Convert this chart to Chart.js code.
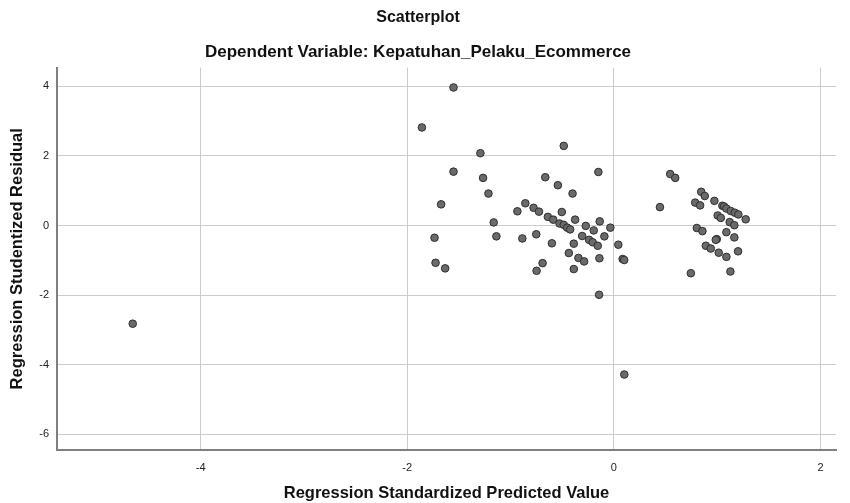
<!DOCTYPE html>
<html>
<head>
<meta charset="utf-8">
<script src="https://cdn.jsdelivr.net/npm/chart.js@4"></script>
<style>
  body { margin: 0; background: #fff; }
  #wrap { width: 850px; height: 503px; }
</style>
</head>
<body>
<div id="wrap"><canvas id="grafico" width="850" height="503"></canvas></div>
<script>
// predicted values (x) and studentized residuals (y)
let predicted = [
  -4.657, -1.552, -1.858, -1.292, -1.552, -1.266, -1.214, -1.672, -0.857, -0.934,
  -0.777, -0.725, -1.163, -1.736, -1.137, -0.886, -0.751, -1.726, -1.633, -0.748,
  -0.690, -0.485, -0.150, -0.664, -0.542, -0.400, -0.504, -0.639, -0.587, -0.375,
  -0.526, -0.485, -0.452, -0.423, -0.137, -0.272, -0.195, -0.034, -0.307, -0.240,
  -0.205, -0.156, -0.092, -0.600, -0.388, 0.043, -0.436, -0.343, -0.288, -0.140,
  0.085, 0.100, -0.388, -0.143, 0.101, 0.446,
  0.545, 0.594, 0.845, 0.880, 0.787, 0.835, 0.973, 1.050, 1.067, 1.089,
  1.131, 1.170, 1.205, 1.276, 1.005, 1.035, 1.121, 1.166, 0.803, 0.857,
  1.089, 1.166, 0.996, 0.986, 0.890, 0.938, 1.015, 1.089, 1.202, 0.745, 1.128
];
let residual = [
  -2.82, 3.97, 2.82, 2.08, 1.55, 1.37, 0.92, 0.61, 0.64, 0.41,
  0.51, 0.40, 0.09, -0.35, -0.31, -0.37, -0.25, -1.07, -1.23, -1.30,
  -1.08, 2.29, 1.54, 1.39, 1.16, 0.92, 0.39, 0.25, 0.17, 0.17,
  0.06, 0.02, -0.06, -0.11, 0.12, -0.01, -0.14, -0.06, -0.30, -0.41,
  -0.48, -0.58, -0.31, -0.51, -0.52, -0.55, -0.79, -0.93, -1.03, -0.94,
  -0.96, -0.99, -1.25, -1.99, -4.28, 0.53,
  1.48, 1.37, 0.97, 0.85, 0.66, 0.58, 0.71, 0.57, 0.55, 0.49,
  0.42, 0.37, 0.32, 0.18, 0.29, 0.22, 0.10, 0.01, -0.07, -0.16,
  -0.19, -0.34, -0.39, -0.41, -0.58, -0.66, -0.78, -0.90, -0.74, -1.37, -1.32
];

let fonte = "'Liberation Sans', Arial, sans-serif";
let pontos = predicted.map((x, i) => ({ x: x, y: residual[i] }));

let ctx = document.getElementById('grafico').getContext('2d');
let grafico = new Chart(ctx, {
  type: 'scatter',
  data: {
    datasets: [{
      data: pontos,
      backgroundColor: '#6a6a6a',
      borderColor: '#2e2e2e',
      borderWidth: 1,
      pointRadius: 3.8
    }]
  },
  options: {
    responsive: false,
    animation: false,
    layout: { padding: { left: 0, right: 14, top: 0, bottom: 0 } },
    plugins: {
      legend: { display: false },
      tooltip: { enabled: false },
      title: {
        display: true,
        text: 'Scatterplot',
        color: '#111',
        font: { family: fonte, size: 16, weight: 'bold', lineHeight: 1.2 },
        padding: { top: 8, bottom: 15 }
      },
      subtitle: {
        display: true,
        text: 'Dependent Variable: Kepatuhan_Pelaku_Ecommerce',
        color: '#111',
        font: { family: fonte, size: 17, weight: 'bold', lineHeight: 1.2 },
        padding: { top: 0, bottom: 5 }
      }
    },
    scales: {
      x: {
        type: 'linear',
        min: -5.39,
        max: 2.15,
        afterFit: (s) => { s.height = 53; },
        ticks: { stepSize: 2, includeBounds: false, color: '#222', padding: 11,
                 font: { family: fonte, size: 11 } },
        grid: { color: '#cccccc', lineWidth: 1, drawTicks: false },
        border: { color: '#808080', width: 2 },
        title: { display: true, text: 'Regression Standardized Predicted Value', color: '#111',
                 font: { family: fonte, size: 16.5, weight: 'bold' }, padding: { top: 4, bottom: 0 } }
      },
      y: {
        min: -6.45,
        max: 4.54,
        afterFit: (s) => { s.width = 57; },
        ticks: { stepSize: 2, includeBounds: false, color: '#222', padding: 8,
                 font: { family: fonte, size: 11 } },
        grid: { color: '#cccccc', lineWidth: 1, drawTicks: false },
        border: { color: '#808080', width: 2 },
        title: { display: true, text: 'Regression Studentized Residual', color: '#111',
                 font: { family: fonte, size: 16.5, weight: 'bold' }, padding: { top: 8, bottom: 0 } }
      }
    }
  }
});
</script>
</body>
</html>
